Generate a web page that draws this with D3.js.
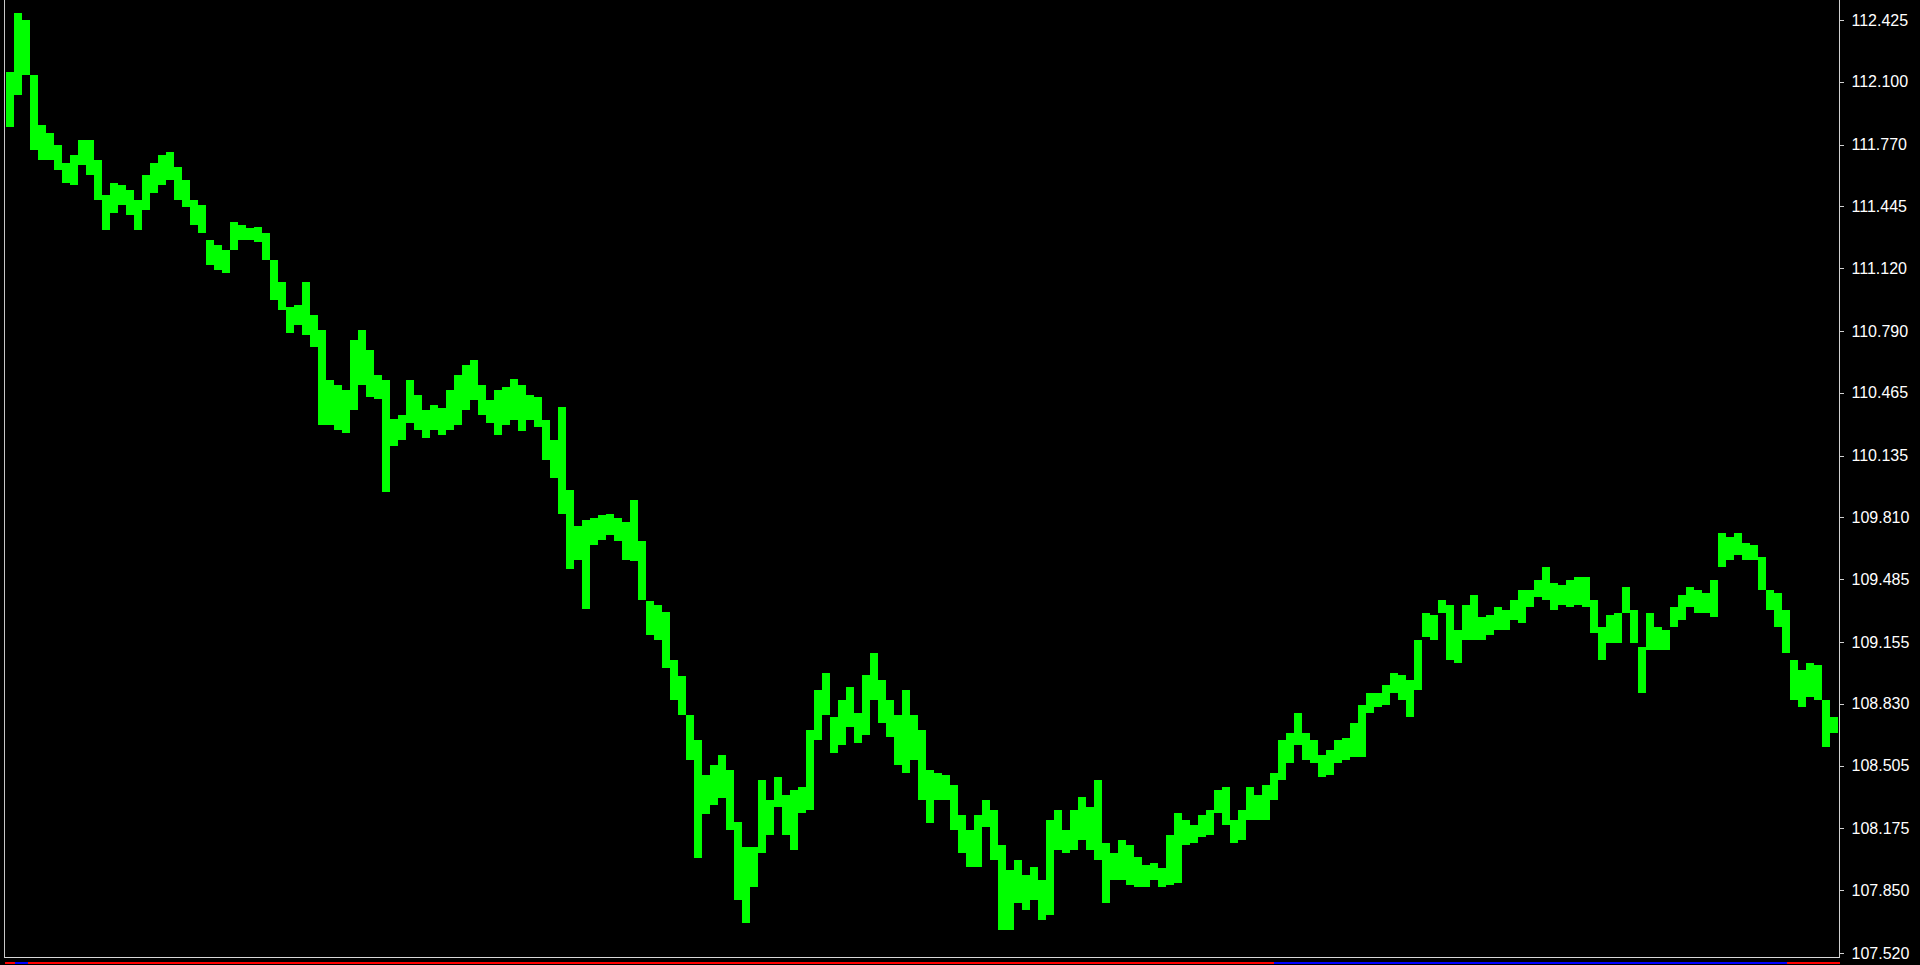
<!DOCTYPE html>
<html>
<head>
<meta charset="utf-8">
<script src="https://cdn.jsdelivr.net/npm/d3@7"></script>
<style>
  html, body { margin: 0; padding: 0; background: #000; overflow: hidden; }
  svg { display: block; }
</style>
</head>
<body>
<svg id="chart" width="1920" height="965"></svg>
<script>
// ---- data: bar highs and lows (price) ----
const barHigh = [
112.151,112.462,112.425,112.136,111.873,111.831,111.768,111.673,111.715,111.794,
111.794,111.689,111.505,111.568,111.557,111.531,111.479,111.610,111.673,111.715,
111.731,111.652,111.584,111.479,111.452,111.268,111.242,111.216,111.363,111.347,
111.331,111.337,111.305,111.163,111.047,110.916,110.926,111.047,110.874,110.795,
110.532,110.506,110.480,110.742,110.795,110.690,110.558,110.532,110.327,110.348,
110.532,110.453,110.374,110.401,110.385,110.480,110.558,110.611,110.637,110.506,
110.427,110.480,110.495,110.537,110.506,110.453,110.443,110.322,110.217,110.390,
109.954,109.765,109.796,109.807,109.822,109.828,109.807,109.786,109.901,109.686,
109.370,109.349,109.312,109.060,108.976,108.771,108.639,108.455,108.508,108.561,
108.482,108.208,108.077,108.077,108.429,108.324,108.445,108.350,108.376,108.392,
108.692,108.902,108.992,108.760,108.850,108.918,108.781,108.981,109.097,108.955,
108.850,108.771,108.902,108.771,108.692,108.482,108.466,108.455,108.403,108.245,
108.166,108.245,108.324,108.271,108.087,107.956,108.008,107.930,107.972,107.903,
108.219,108.271,108.166,108.271,108.340,108.287,108.429,108.098,108.045,108.114,
108.087,108.024,107.982,107.993,107.966,108.140,108.256,108.219,108.192,108.245,
108.271,108.376,108.392,108.219,108.271,108.392,108.350,108.403,108.466,108.639,
108.676,108.781,108.676,108.639,108.561,108.587,108.639,108.650,108.729,108.823,
108.887,108.887,108.929,108.992,108.981,108.955,109.165,109.307,109.297,109.375,
109.349,109.218,109.349,109.402,109.286,109.297,109.339,109.323,109.375,109.428,
109.428,109.481,109.549,109.465,109.454,109.481,109.496,109.496,109.375,109.233,
109.297,109.307,109.444,109.323,109.128,109.307,109.233,109.218,109.339,109.402,
109.444,109.428,109.412,109.481,109.728,109.707,109.728,109.675,109.665,109.602,
109.428,109.412,109.323,109.060,109.007,109.044,109.034,108.850,108.760
];
const barLow = [
111.862,112.031,112.136,111.741,111.689,111.689,111.636,111.568,111.557,111.663,
111.610,111.479,111.321,111.410,111.452,111.400,111.321,111.426,111.515,111.557,
111.584,111.479,111.442,111.347,111.305,111.137,111.110,111.095,111.216,111.268,
111.268,111.258,111.163,110.953,110.900,110.779,110.821,110.769,110.706,110.296,
110.296,110.269,110.253,110.374,110.506,110.443,110.432,109.943,110.185,110.217,
110.306,110.269,110.227,110.269,110.243,110.269,110.296,110.374,110.427,110.348,
110.306,110.243,110.296,110.322,110.264,110.322,110.285,110.111,110.017,109.828,
109.538,109.586,109.328,109.665,109.691,109.717,109.686,109.586,109.580,109.375,
109.191,109.165,109.018,108.850,108.771,108.534,108.019,108.250,108.298,108.334,
108.166,107.798,107.677,107.867,108.045,108.140,108.287,108.140,108.061,108.256,
108.271,108.639,108.771,108.571,108.613,108.708,108.624,108.666,108.850,108.729,
108.655,108.508,108.466,108.534,108.324,108.203,108.324,108.324,108.166,108.045,
107.972,107.972,108.182,108.008,107.640,107.640,107.782,107.746,107.798,107.693,
107.719,108.061,108.045,108.061,108.114,108.061,108.008,107.782,107.903,107.903,
107.877,107.867,107.867,107.903,107.867,107.877,107.888,108.087,108.098,108.129,
108.140,108.256,108.192,108.098,108.114,108.219,108.219,108.219,108.324,108.429,
108.518,108.613,108.534,108.518,108.445,108.455,108.518,108.534,108.550,108.550,
108.781,108.813,108.823,108.887,108.850,108.760,108.902,109.181,109.165,109.307,
109.060,109.044,109.165,109.165,109.165,109.191,109.218,109.218,109.270,109.255,
109.339,109.391,109.375,109.323,109.349,109.339,109.349,109.339,109.202,109.060,
109.149,109.149,109.307,109.149,108.887,109.113,109.113,109.113,109.233,109.270,
109.339,109.307,109.307,109.286,109.549,109.586,109.612,109.586,109.586,109.428,
109.323,109.233,109.097,108.850,108.813,108.865,108.850,108.603,108.676
];
const tickLabels = [112.425,112.100,111.770,111.445,111.120,110.790,110.465,110.135,
                    109.810,109.485,109.155,108.830,108.505,108.175,107.850,107.520];
const priceMin = 107.520, priceMax = 112.425;

// ---- layout ----
const svg = d3.select("#chart");
const plotLeft = 6, plotRight = 1838, axisX = 1839.5, plotBottom = 957;

const bars = barHigh.map((h, i) => ({ i, high: h, low: barLow[i] }));
const x = d3.scaleLinear().domain([0, bars.length]).range([plotLeft, plotRight]);
const y = d3.scaleLinear().domain([priceMin, priceMax]).range([953, 20]);

// price bars
svg.append("g")
  .attr("shape-rendering", "crispEdges")
  .selectAll("rect")
  .data(bars)
  .join("rect")
  .attr("x", d => x(d.i))
  .attr("width", d => x(d.i + 1) - x(d.i))
  .attr("y", d => y(d.high))
  .attr("height", d => Math.max(1, y(d.low) - y(d.high)))
  .attr("fill", "#00ff00");

// frame
const frame = svg.append("g").attr("shape-rendering", "crispEdges");
frame.append("line").attr("x1", 4.5).attr("x2", 4.5).attr("y1", 0).attr("y2", plotBottom + 0.5)
  .attr("stroke", "#c8c8c8").attr("stroke-width", 1);
frame.append("line").attr("x1", 4.5).attr("x2", axisX).attr("y1", plotBottom + 0.5).attr("y2", plotBottom + 0.5)
  .attr("stroke", "#d8d8d8").attr("stroke-width", 1);

// bottom tab strip
frame.append("line").attr("x1", 5).attr("x2", 1840).attr("y1", 963).attr("y2", 963)
  .attr("stroke", "#ff0000").attr("stroke-width", 2);
frame.append("line").attr("x1", 15).attr("x2", 28).attr("y1", 963).attr("y2", 963)
  .attr("stroke", "#0000ff").attr("stroke-width", 2);
frame.append("line").attr("x1", 1274).attr("x2", 1787).attr("y1", 963).attr("y2", 963)
  .attr("stroke", "#0000ff").attr("stroke-width", 2);

// right price axis
const axis = d3.axisRight(y)
  .tickValues(tickLabels)
  .tickFormat(d3.format(".3f"))
  .tickSize(4)
  .tickPadding(8);
const ag = svg.append("g")
  .attr("transform", `translate(${axisX},0)`)
  .attr("shape-rendering", "crispEdges")
  .call(axis);
ag.select(".domain").attr("stroke", "#d0d0d0").attr("d", `M0,0V${plotBottom + 1}`);
ag.selectAll(".tick line").attr("stroke", "#d0d0d0");
ag.selectAll(".tick text")
  .attr("fill", "#ffffff")
  .style("font-family", "'Liberation Sans', Arial, sans-serif")
  .style("font-size", "16px");
</script>
</body>
</html>
